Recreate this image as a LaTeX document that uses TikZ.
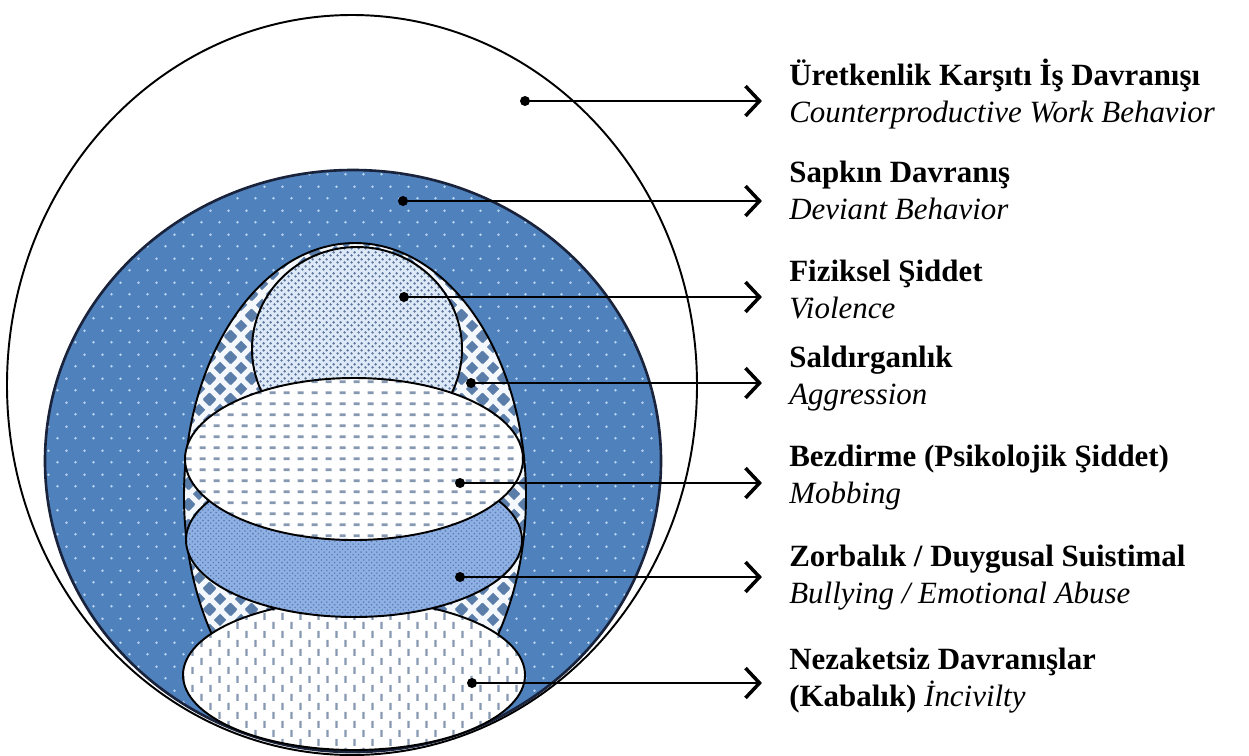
\documentclass[tikz,border=0pt]{standalone}
\usepackage{fontspec}
\setmainfont{Liberation Serif}
\usetikzlibrary{arrows.meta,patterns}

\definecolor{ringblue}{RGB}{79,129,189}
\definecolor{ringline}{RGB}{25,35,60}
\definecolor{ringdot}{RGB}{185,212,240}
\definecolor{eggbase}{RGB}{244,248,253}
\definecolor{eggblue}{RGB}{90,125,170}
\definecolor{violbase}{RGB}{222,233,247}
\definecolor{violblue}{RGB}{92,118,158}
\definecolor{bullybase}{RGB}{142,176,226}
\definecolor{bullyblue}{RGB}{88,122,186}
\definecolor{dashgray}{RGB}{135,152,178}

\pgfdeclarepatternformonly{ringdots}{\pgfqpoint{0pt}{0pt}}{\pgfqpoint{10.24pt}{13.66pt}}{\pgfqpoint{10.24pt}{13.66pt}}{%
  \pgfpathcircle{\pgfqpoint{2.56pt}{3.41pt}}{0.8pt}%
  \pgfpathcircle{\pgfqpoint{7.68pt}{10.24pt}}{0.8pt}%
  \pgfusepath{fill}}

\pgfdeclarepatternformonly{diamondgrid}{\pgfqpoint{0pt}{0pt}}{\pgfqpoint{12pt}{12pt}}{\pgfqpoint{12pt}{12pt}}{%
  \pgfpathmoveto{\pgfqpoint{2.3pt}{6pt}}\pgfpathlineto{\pgfqpoint{6pt}{2.3pt}}\pgfpathlineto{\pgfqpoint{9.7pt}{6pt}}\pgfpathlineto{\pgfqpoint{6pt}{9.7pt}}\pgfpathclose
  \pgfpathmoveto{\pgfqpoint{-3.7pt}{0pt}}\pgfpathlineto{\pgfqpoint{0pt}{-3.7pt}}\pgfpathlineto{\pgfqpoint{3.7pt}{0pt}}\pgfpathlineto{\pgfqpoint{0pt}{3.7pt}}\pgfpathclose
  \pgfpathmoveto{\pgfqpoint{8.3pt}{0pt}}\pgfpathlineto{\pgfqpoint{12pt}{-3.7pt}}\pgfpathlineto{\pgfqpoint{15.7pt}{0pt}}\pgfpathlineto{\pgfqpoint{12pt}{3.7pt}}\pgfpathclose
  \pgfpathmoveto{\pgfqpoint{-3.7pt}{12pt}}\pgfpathlineto{\pgfqpoint{0pt}{8.3pt}}\pgfpathlineto{\pgfqpoint{3.7pt}{12pt}}\pgfpathlineto{\pgfqpoint{0pt}{15.7pt}}\pgfpathclose
  \pgfpathmoveto{\pgfqpoint{8.3pt}{12pt}}\pgfpathlineto{\pgfqpoint{12pt}{8.3pt}}\pgfpathlineto{\pgfqpoint{15.7pt}{12pt}}\pgfpathlineto{\pgfqpoint{12pt}{15.7pt}}\pgfpathclose
  \pgfusepath{fill}}

\pgfdeclarepatternformonly{violdots}{\pgfqpoint{0pt}{0pt}}{\pgfqpoint{4pt}{4pt}}{\pgfqpoint{4pt}{4pt}}{%
  \pgfpathcircle{\pgfqpoint{1pt}{1pt}}{0.85pt}%
  \pgfpathcircle{\pgfqpoint{3pt}{3pt}}{0.85pt}%
  \pgfusepath{fill}}

\pgfdeclarepatternformonly{hdashes}{\pgfqpoint{0pt}{0pt}}{\pgfqpoint{8pt}{6.1pt}}{\pgfqpoint{8pt}{6.1pt}}{%
  \pgfsetlinewidth{1.5pt}%
  \pgfpathmoveto{\pgfqpoint{2.2pt}{3.05pt}}\pgfpathlineto{\pgfqpoint{5.8pt}{3.05pt}}%
  \pgfusepath{stroke}}

\pgfdeclarepatternformonly{vdashes}{\pgfqpoint{0pt}{0pt}}{\pgfqpoint{10.24pt}{10.24pt}}{\pgfqpoint{10.24pt}{10.24pt}}{%
  \pgfsetlinewidth{1.2pt}%
  \pgfpathmoveto{\pgfqpoint{2.56pt}{0.6pt}}\pgfpathlineto{\pgfqpoint{2.56pt}{4.6pt}}%
  \pgfpathmoveto{\pgfqpoint{7.68pt}{5.7pt}}\pgfpathlineto{\pgfqpoint{7.68pt}{9.7pt}}%
  \pgfusepath{stroke}}

\begin{document}
\begin{tikzpicture}[
  x=0.02cm, y=-0.02cm,
  spot/.style={circle, fill=black, inner sep=0pt, minimum size=5.7pt},
  term/.style={anchor=west, inner sep=0pt, align=left, font=\fontsize{17.6}{21}\selectfont},
  arrow/.style={-{Straight Barb[length=8pt,width=17pt,line width=2pt]}, line width=1.2pt, shorten >=15.4pt},
  rim/.style={draw=black, line width=1.1pt}
]
  \useasboundingbox (0,0) rectangle (1249,755);
  \fill[white] (0,0) rectangle (1249,755);

  \draw[rim, fill=white] (352,385) ellipse [x radius=345, y radius=370];
  \draw[line width=1.5pt, draw=ringline, preaction={fill=ringblue}, pattern=ringdots, pattern color=ringdot] (353,461) ellipse [x radius=308, y radius=291];
  \draw[rim, preaction={fill=eggbase}, pattern=diamondgrid, pattern color=eggblue] (355,496) ellipse [x radius=171, y radius=253];
  \draw[rim, preaction={fill=violbase}, pattern=violdots, pattern color=violblue] (357,349) ellipse [x radius=105, y radius=102];
  \draw[rim, preaction={fill=white}, pattern=vdashes, pattern color=dashgray] (354,675) ellipse [x radius=171, y radius=75];
  \draw[rim, preaction={fill=bullybase}, pattern=crosshatch dots, pattern color=bullyblue] (354,540) ellipse [x radius=168, y radius=77];
  \draw[rim, preaction={fill=white}, pattern=hdashes, pattern color=dashgray] (354,459) ellipse [x radius=169, y radius=81];

  \node[spot] (dcwb) at (525,101) {};
  \node[spot] (ddev) at (403,201) {};
  \node[spot] (dvio) at (404,297) {};
  \node[spot] (dagg) at (471,383) {};
  \node[spot] (dmob) at (460,483) {};
  \node[spot] (dbul) at (460,577) {};
  \node[spot] (dinc) at (472,683) {};

  \node[term] (cwb) at (789,96) {\strut\textbf{Üretkenlik Karşıtı İş Davranışı}\\\strut\textit{Counterproductive Work Behavior}};
  \node[term] (dev) at (789,194) {\strut\textbf{Sapkın Davranış}\\\strut\textit{Deviant Behavior}};
  \node[term] (vio) at (789,293) {\strut\textbf{Fiziksel Şiddet}\\\strut\textit{Violence}};
  \node[term] (agg) at (789,379) {\strut\textbf{Saldırganlık}\\\strut\textit{Aggression}};
  \node[term] (mob) at (789,478) {\strut\textbf{Bezdirme (Psikolojik Şiddet)}\\\strut\textit{Mobbing}};
  \node[term] (bul) at (789,578) {\strut\textbf{Zorbalık / Duygusal Suistimal}\\\strut\textit{Bullying / Emotional Abuse}};
  \node[term] (inc) at (789,681) {\strut\textbf{Nezaketsiz Davranışlar}\\\strut\textbf{(Kabalık)} \textit{İncivilty}};

  \draw[arrow] (dcwb.center) -- (dcwb -| cwb.west);
  \draw[arrow] (ddev.center) -- (ddev -| dev.west);
  \draw[arrow] (dvio.center) -- (dvio -| vio.west);
  \draw[arrow] (dagg.center) -- (dagg -| agg.west);
  \draw[arrow] (dmob.center) -- (dmob -| mob.west);
  \draw[arrow] (dbul.center) -- (dbul -| bul.west);
  \draw[arrow] (dinc.center) -- (dinc -| inc.west);
\end{tikzpicture}
\end{document}
